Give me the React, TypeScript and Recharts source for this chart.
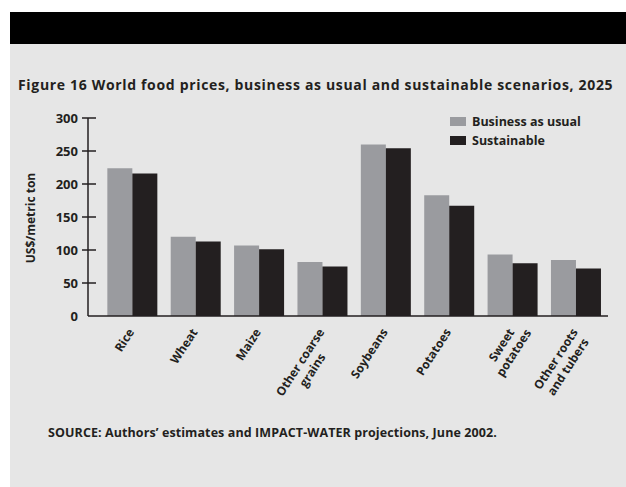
import { BarChart, Bar, XAxis, YAxis } from "recharts";

const crops = [
  ["Rice"],
  ["Wheat"],
  ["Maize"],
  ["Other coarse", "grains"],
  ["Soybeans"],
  ["Potatoes"],
  ["Sweet", "potatoes"],
  ["Other roots", "and tubers"],
];
const businessAsUsual = [224, 120, 107, 82, 260, 183, 93, 85];
const sustainable = [216, 113, 101, 75, 254, 167, 80, 72];
const yTicks = [0, 50, 100, 150, 200, 250, 300];

const data = crops.map((lines, i) => ({
  name: lines.join(" "),
  lines,
  bau: businessAsUsual[i],
  sus: sustainable[i],
}));

const FONT = "'Open Sans', Lato, sans-serif";
const INK = "#231f20";
const GREY = "#9a9b9f";
const LABEL_FONT = `700 12px ${FONT}`;

let ctx: CanvasRenderingContext2D | null = null;
function textWidth(s: string) {
  if (!ctx) ctx = document.createElement("canvas").getContext("2d");
  if (!ctx) return s.length * 7;
  ctx.font = LABEL_FONT;
  return ctx.measureText(s).width;
}

const YTick = ({ x, y, payload }: any) => (
  <g>
    {payload.value !== 0 && <line x1={x - 6} x2={x + 8} y1={y} y2={y} stroke={INK} strokeWidth={1.5} />}
    <text x={x - 10} y={y} dy={4.5} textAnchor="end" fontFamily={FONT} fontWeight={700} fontSize={13} fill={INK}>
      {payload.value}
    </text>
  </g>
);

// first line ends under the category centre, the second is centred on it
const XTick = ({ x, y, payload, index }: any) => {
  const lines: string[] = data[index]?.lines ?? [payload.value];
  const w1 = textWidth(lines[0]);
  return (
    <g transform={`translate(${x + 2},${y + 8}) rotate(-57)`}>
      {lines.map((l, i) => (
        <text
          key={i}
          x={i === 0 ? 0 : -w1 / 2}
          y={i * 14.5}
          textAnchor={i === 0 ? "end" : "middle"}
          fontFamily={FONT}
          fontWeight={700}
          fontSize={12}
          fill={INK}
        >
          {l}
        </text>
      ))}
    </g>
  );
};

export default function App() {
  return (
    <div style={{ position: "absolute", left: 0, top: 0, width: 626, height: 487, background: "#fff", overflow: "hidden" }}>
      <div style={{ position: "absolute", left: 10, top: 12, width: 616, height: 475, background: "#e6e6e6" }} />
      <div style={{ position: "absolute", left: 10, top: 12, width: 616, height: 32, background: "#000" }} />
      <div
        style={{
          position: "absolute", left: 18, top: 75, whiteSpace: "nowrap", letterSpacing: 0.67,
          fontFamily: FONT, fontWeight: 700, fontSize: 14, color: INK,
        }}
      >
        Figure 16 World food prices, business as usual and sustainable scenarios, 2025
      </div>
      <div
        style={{
          position: "absolute", left: 30, top: 218, transform: "translate(-50%,-50%) rotate(-90deg)",
          whiteSpace: "nowrap", fontFamily: FONT, fontWeight: 700, fontSize: 12, color: INK,
        }}
      >
        US$/metric ton
      </div>
      <div
        style={{
          position: "absolute", left: 48, top: 424, whiteSpace: "nowrap", letterSpacing: 0.09,
          fontFamily: FONT, fontWeight: 700, fontSize: 12.5, color: INK,
        }}
      >
        SOURCE: Authors’ estimates and IMPACT-WATER projections, June 2002.
      </div>
      <div style={{ position: "absolute", left: 450, top: 112, fontFamily: FONT, fontWeight: 700, fontSize: 12.5, color: INK }}>
        {[
          ["Business as usual", GREY],
          ["Sustainable", INK],
        ].map(([label, c]) => (
          <div key={label} style={{ display: "flex", alignItems: "center", height: 19 }}>
            <span style={{ width: 16, height: 9, background: c, marginRight: 6, display: "inline-block" }} />
            {label}
          </div>
        ))}
      </div>
      <div style={{ position: "absolute", left: 0, top: 0 }}>
        <BarChart
          width={626}
          height={487}
          data={data}
          margin={{ top: 118, right: 18, bottom: 141, left: 28 }}
          barGap={0}
          barCategoryGap="10%"
        >
          <XAxis
            dataKey="name"
            interval={0}
            padding={{ left: 13, right: 0 }}
            axisLine={{ stroke: INK, strokeWidth: 1.5 }}
            tickLine={false}
            tick={<XTick />}
            height={30}
          />
          <YAxis
            domain={[0, 300]}
            ticks={yTicks}
            width={60}
            tickSize={0}
            tickMargin={0}
            tickLine={false}
            axisLine={{ stroke: INK, strokeWidth: 1.5 }}
            tick={<YTick />}
          />
          <Bar dataKey="bau" name="Business as usual" fill={GREY} isAnimationActive={false} />
          <Bar dataKey="sus" name="Sustainable" fill={INK} isAnimationActive={false} />
        </BarChart>
      </div>
    </div>
  );
}
